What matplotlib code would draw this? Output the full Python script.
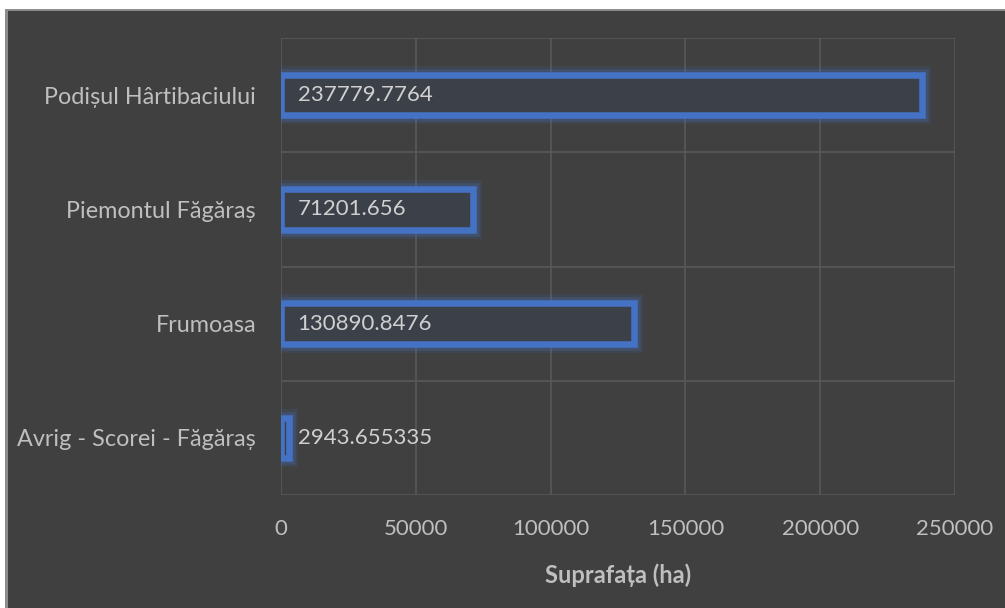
import matplotlib.pyplot as plt
import matplotlib.patheffects as pe
from matplotlib.patches import Rectangle
import numpy as np

# Datele graficului (de jos in sus)
zone = ['Avrig - Scorei - Făgăraș', 'Frumoasa', 'Piemontul Făgăraș', 'Podișul Hârtibaciului']
suprafata = [2943.655335, 130890.8476, 71201.656, 237779.7764]
etichete = ['2943.655335', '130890.8476', '71201.656', '237779.7764']
x_ticks = [0, 50000, 100000, 150000, 200000, 250000]

fundal = '#404040'
albastru = '#4472c4'
text_gri = '#bfbfbf'

plt.rcParams['font.family'] = ['Lato', 'DejaVu Sans']

fig = plt.figure(figsize=(10.05, 6.08), dpi=100, facecolor='white')
# panoul inchis al graficului (sub fasia alba de sus)
fig.patches.append(Rectangle((5 / 1005, 0), 1, 1 - 9 / 608, transform=fig.transFigure,
                             facecolor='#8c8c8c', edgecolor='none', zorder=-2))
fig.patches.append(Rectangle((8 / 1005, 0), 1, 1 - 11 / 608, transform=fig.transFigure,
                             facecolor=fundal, edgecolor='none', zorder=-1))

ax = fig.add_axes([281 / 1005, 1 - 495 / 608, 674 / 1005, 457 / 608])
ax.set_facecolor(fundal)

y = np.arange(len(zone))
bare = ax.barh(y, suprafata, height=0.355, facecolor='#3c4049', edgecolor=albastru,
               linewidth=4.7, zorder=3)
for b in bare:
    b.set_path_effects([
        pe.Stroke(linewidth=13, foreground=albastru, alpha=0.12),
        pe.Stroke(linewidth=9, foreground=albastru, alpha=0.25),
        pe.Normal(),
    ])

for i, t in enumerate(etichete):
    ax.annotate(t, xy=(0, y[i]), xytext=(12, 0), textcoords='offset points',
                ha='left', va='center', color='#d0d0d0', fontsize=16, zorder=4)

ax.set_xlim(0, 250000)
ax.set_ylim(-0.5, len(zone) - 0.5)
ax.set_xticks(x_ticks)
ax.set_xticklabels([str(v) for v in x_ticks])
ax.set_yticks(y)
ax.set_yticklabels(zone)
ax.set_yticks(np.arange(-0.5, len(zone), 1.0), minor=True)

ax.grid(True, axis='x', which='major', color='#595959', linewidth=1.2, zorder=0)
ax.grid(True, axis='y', which='minor', color='#595959', linewidth=1.2, zorder=0)
ax.tick_params(axis='both', which='both', length=0, colors=text_gri)
ax.tick_params(axis='y', pad=18, labelsize=16.8)
ax.tick_params(axis='x', pad=17, labelsize=16)
for s in ax.spines.values():
    s.set_visible(False)

ax.set_xlabel('Suprafața (ha)', color=text_gri, fontsize=17, fontweight='bold', labelpad=18)

fig.savefig('out.png', dpi=100, facecolor=fig.get_facecolor())
